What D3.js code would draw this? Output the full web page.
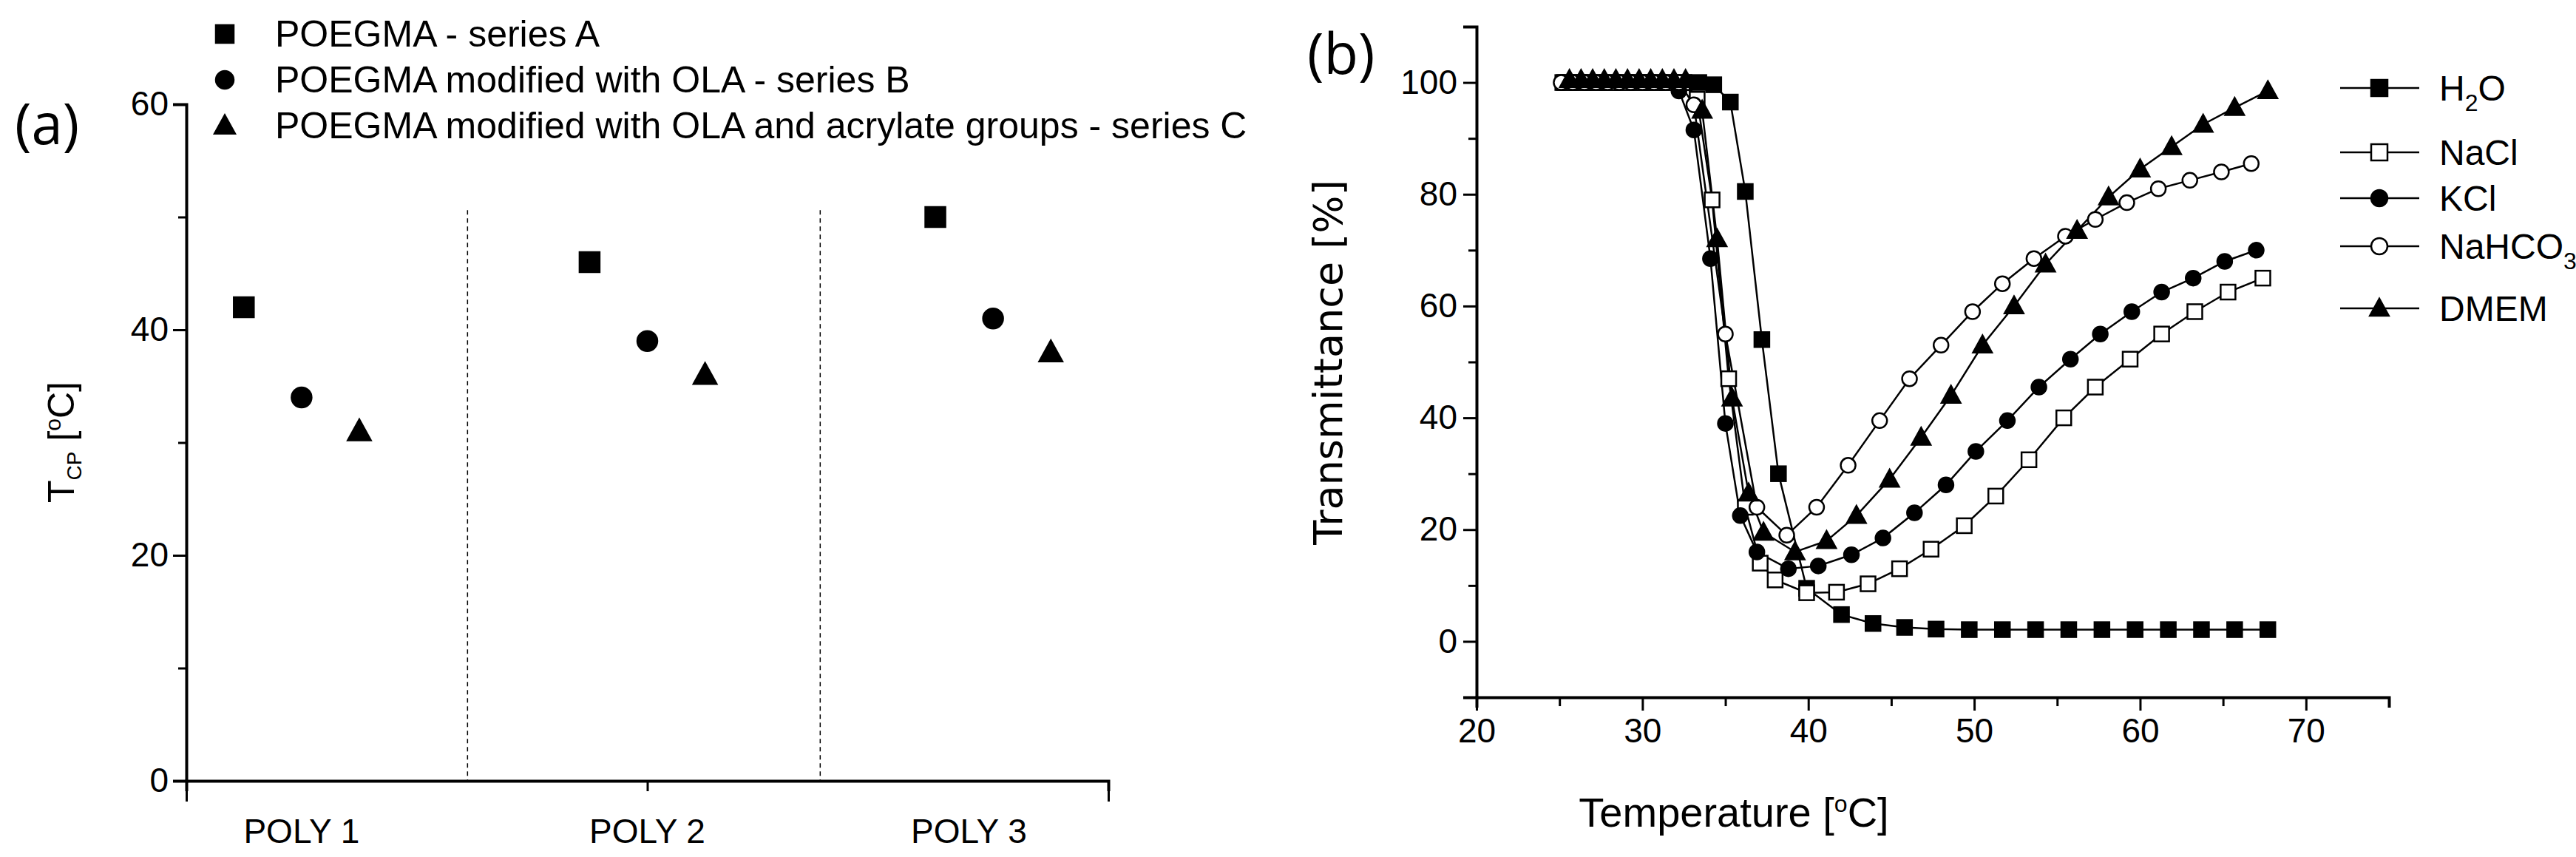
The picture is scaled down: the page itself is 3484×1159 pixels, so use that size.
<!DOCTYPE html>
<html>
<head>
<meta charset="utf-8">
<script src="https://cdn.jsdelivr.net/npm/d3@7"></script>
<style>
  body { margin: 0; background: #fff; }
  text { font-family: "Liberation Sans Narrow", "Liberation Sans", Arial, sans-serif; fill: #000; }
</style>
</head>
<body>
<svg id="chart" width="3484" height="1159"></svg>
<script>
// panel (a)
const polyNames = ["POLY 1", "POLY 2", "POLY 3"];
const polyLabelPos = [1, 2, 2.93];
const seriesA = [42, 46, 50];
const seriesB = [34, 39, 41];
const seriesC = [31, 36, 38];
const legendA = ["POEGMA - series A", "POEGMA modified with OLA - series B",
  "POEGMA modified with OLA and acrylate groups - series C"];
const yTicksA = [0, 20, 40, 60];

// panel (b)
const h2oT = [25.3, 26.2, 27.1, 28.0, 28.9, 29.8, 30.7, 31.6, 32.5, 33.4, 34.3, 35.3, 36.2, 37.2, 38.2, 39.9, 42.0, 43.9, 45.8, 47.7, 49.7, 51.7, 53.7, 55.7, 57.7, 59.7, 61.7, 63.7, 65.7, 67.7];
const h2oV = [100, 100, 100, 100, 100, 100, 100, 100, 100, 100, 99.6, 96.5, 80.5, 54, 30, 9.5, 4.8, 3.2, 2.5, 2.2, 2.1, 2.1, 2.1, 2.1, 2.1, 2.1, 2.1, 2.1, 2.1, 2.1];
const naclT = [25.2, 26.1, 27.0, 27.9, 28.8, 29.7, 30.6, 31.5, 32.4, 33.3, 34.2, 35.2, 36.2, 37.1, 38.0, 39.9, 41.7, 43.6, 45.5, 47.4, 49.4, 51.3, 53.3, 55.4, 57.3, 59.4, 61.3, 63.3, 65.3, 67.4];
const naclV = [100, 100, 100, 100, 100, 100, 100, 100, 100, 97, 79, 47, 24, 14, 11, 8.7, 8.8, 10.3, 13, 16.5, 20.7, 26, 32.5, 40, 45.5, 50.5, 55, 59, 62.5, 65];
const kclT = [25.2, 26.0, 26.9, 27.7, 28.6, 29.4, 30.3, 31.2, 32.2, 33.1, 34.1, 35.0, 35.9, 36.9, 38.8, 40.6, 42.6, 44.5, 46.4, 48.3, 50.1, 52.0, 53.9, 55.8, 57.6, 59.5, 61.3, 63.2, 65.1, 67.0];
const kclV = [100, 100, 100, 100, 100, 100, 100, 100, 98.5, 91.5, 68.5, 39, 22.5, 16, 13, 13.5, 15.5, 18.5, 23, 28, 34, 39.5, 45.5, 50.5, 55, 59, 62.5, 65, 68, 70];
const nahco3T = [25.1, 25.8, 26.5, 27.2, 27.9, 28.6, 29.3, 30.0, 30.7, 31.4, 32.2, 33.1, 35.0, 36.9, 38.7, 40.5, 42.4, 44.3, 46.1, 48.0, 49.9, 51.7, 53.6, 55.5, 57.3, 59.2, 61.1, 63.0, 64.9, 66.7];
const nahco3V = [100, 100, 100, 100, 100, 100, 100, 100, 100, 100, 100, 96, 55, 24, 19, 24, 31.5, 39.5, 47, 53, 59, 64, 68.5, 72.5, 75.5, 78.5, 81, 82.5, 84, 85.5];
const dmemT = [25.6, 26.3, 27.0, 27.7, 28.4, 29.1, 29.8, 30.5, 31.2, 31.9, 32.6, 33.6, 34.5, 35.4, 36.4, 37.3, 39.2, 41.1, 42.9, 44.9, 46.8, 48.6, 50.5, 52.4, 54.3, 56.2, 58.1, 60.0, 61.9, 63.8, 65.7, 67.7];
const dmemV = [100.5, 100.5, 100.5, 100.5, 100.5, 100.5, 100.5, 100.5, 100.5, 100.5, 100.5, 95, 72, 43.5, 26.5, 19.5, 16, 18, 22.5, 29, 36.5, 44, 53, 60, 67.5, 73.5, 79.5, 84.5, 88.5, 92.5, 95.5, 98.5];
const xTicksB = [20, 30, 40, 50, 60, 70];
const yTicksB = [0, 20, 40, 60, 80, 100];

const svg = d3.select("#chart");

function marker(g, shape, x, y, size, filled) {
  let el;
  if (shape === "square") {
    el = g.append("rect").attr("x", x - size / 2).attr("y", y - size / 2)
      .attr("width", size).attr("height", size);
  } else if (shape === "circle") {
    el = g.append("circle").attr("cx", x).attr("cy", y).attr("r", size / 2);
  } else {
    el = g.append("path").attr("d",
      `M${x},${y - size * 0.6}L${x + size * 0.58},${y + size * 0.45}L${x - size * 0.58},${y + size * 0.45}Z`);
  }
  el.attr("fill", filled ? "#000" : "#fff").attr("stroke", "#000").attr("stroke-width", 2.5);
}

function styleAxis(g) {
  g.selectAll(".domain").attr("stroke-width", 4);
  g.selectAll(".tick line").attr("stroke-width", 3);
  g.selectAll(".tick text").style("font-size", "46px");
}

// ---------- panel (a)
const xa = d3.scaleLinear().domain([2 / 3, 10 / 3]).range([252, 1499]);
const ya = d3.scaleLinear().domain([0, 60]).range([1056, 141]);

const gaY = svg.append("g").attr("transform", "translate(252,0)")
  .call(d3.axisLeft(ya).tickValues(d3.range(0, 61, 10)).tickSize(18).tickPadding(6)
    .tickFormat(d => yTicksA.includes(d) ? d : ""));
gaY.selectAll(".tick line").attr("x2", d => yTicksA.includes(d) ? -18 : -11);
styleAxis(gaY);

const gaX = svg.append("g").attr("transform", "translate(0,1056)")
  .call(d3.axisBottom(xa).tickValues([2 / 3, 2, 10 / 3]).tickSize(14).tickFormat(""));
styleAxis(gaX);
gaX.selectAll(".tick line").attr("y2", d => d === 2 ? 14 : 28);

svg.append("g").selectAll("text").data(polyNames).join("text")
  .attr("x", (d, i) => xa(polyLabelPos[i])).attr("y", 1140)
  .attr("text-anchor", "middle").style("font-size", "46px").text(d => d);

svg.append("g").selectAll("line").data([1.48, 2.5]).join("line")
  .attr("x1", d => xa(d)).attr("x2", d => xa(d))
  .attr("y1", ya(50.6)).attr("y2", ya(0))
  .attr("stroke", "#000").attr("stroke-width", 1.5).attr("stroke-dasharray", "6,5");

const ga = svg.append("g");
[[seriesA, "square", -0.167], [seriesB, "circle", 0], [seriesC, "triangle", 0.167]].forEach(([vals, shape, off]) => {
  vals.forEach((v, i) => marker(ga, shape, xa(i + 1 + off), ya(v), 27, true));
});

const legA = svg.append("g");
["square", "circle", "triangle"].forEach((shape, i) => {
  const y = [46, 108, 170][i];
  marker(legA, shape, 304, y, 24, true);
  legA.append("text").attr("x", 372).attr("y", y + 17).style("font-size", "50px").text(legendA[i]);
});

svg.append("text").attr("transform", "translate(100,598) rotate(-90)")
  .attr("text-anchor", "middle").style("font-family", "'Liberation Sans', Arial, sans-serif")
  .style("font-size", "50px")
  .html('T<tspan dy="10" font-size="28">CP</tspan><tspan dy="-10"> [</tspan><tspan dy="-18" font-size="30">o</tspan><tspan dy="18">C]</tspan>');

svg.append("text").attr("x", 20).attr("y", 195).style("font-family", "'Open Sans', sans-serif")
  .style("font-size", "76px").text("(a)");

// ---------- panel (b)
const xb = d3.scaleLinear().domain([20, 75]).range([1997, 3231]);
const yb = d3.scaleLinear().domain([-10, 110]).range([943, 36]);

const gbY = svg.append("g").attr("transform", "translate(1997,0)")
  .call(d3.axisLeft(yb).tickValues(d3.range(-10, 111, 10)).tickSize(18).tickPadding(8)
    .tickFormat(d => yTicksB.includes(d) ? d : ""));
gbY.selectAll(".tick line").attr("x2", d => yTicksB.includes(d) ? -18 : -11);
styleAxis(gbY);

const gbX = svg.append("g").attr("transform", "translate(0,943)")
  .call(d3.axisBottom(xb).tickValues(d3.range(20, 76, 5)).tickSize(14).tickPadding(14)
    .tickFormat(d => xTicksB.includes(d) ? d : ""));
gbX.selectAll(".tick line").attr("y2", d => xTicksB.includes(d) ? 18 : 12);
styleAxis(gbX);

const seriesB2 = [
  { name: "H2O", t: h2oT, v: h2oV, shape: "square", filled: true },
  { name: "NaCl", t: naclT, v: naclV, shape: "square", filled: false },
  { name: "KCl", t: kclT, v: kclV, shape: "circle", filled: true },
  { name: "NaHCO3", t: nahco3T, v: nahco3V, shape: "circle", filled: false },
  { name: "DMEM", t: dmemT, v: dmemV, shape: "triangle", filled: true }
];
const line = d3.line().x(d => xb(d[0])).y(d => yb(d[1]));
const gb = svg.append("g");
seriesB2.forEach(s => {
  const pts = s.t.map((t, i) => [t, s.v[i]]);
  gb.append("path").attr("d", line(pts)).attr("fill", "none").attr("stroke", "#000").attr("stroke-width", 2.5);
});
seriesB2.forEach(s => {
  s.t.forEach((t, i) => marker(gb, s.shape, xb(t), yb(s.v[i]), s.shape === "triangle" ? 22 : 20, s.filled));
});

const legB = svg.append("g");
const legRows = [119, 206, 268, 333, 417];
const legLabels = [
  'H<tspan dy="14" font-size="32">2</tspan><tspan dy="-14">O</tspan>',
  "NaCl", "KCl",
  'NaHCO<tspan dy="14" font-size="32">3</tspan>',
  "DMEM"
];
seriesB2.forEach((s, i) => {
  const y = legRows[i];
  legB.append("line").attr("x1", 3165).attr("x2", 3272).attr("y1", y).attr("y2", y)
    .attr("stroke", "#000").attr("stroke-width", 2.5);
  marker(legB, s.shape, 3218, y, 22, s.filled);
  legB.append("text").attr("x", 3299).attr("y", y + 17).style("font-size", "48px").html(legLabels[i]);
});

svg.append("text").attr("transform", "translate(1815,490) rotate(-90)")
  .attr("text-anchor", "middle").style("font-family", "'DejaVu Sans', Verdana, sans-serif")
  .style("font-size", "54px").text("Transmittance [%]");

svg.append("text").attr("x", 2345).attr("y", 1118).attr("text-anchor", "middle")
  .style("font-family", "'Liberation Sans', Arial, sans-serif").style("font-size", "56px")
  .html('Temperature [<tspan dy="-20" font-size="32">o</tspan><tspan dy="20">C]</tspan>');

svg.append("text").attr("x", 1768).attr("y", 100).style("font-family", "'Open Sans', sans-serif")
  .style("font-size", "76px").text("(b)");
</script>
</body>
</html>
